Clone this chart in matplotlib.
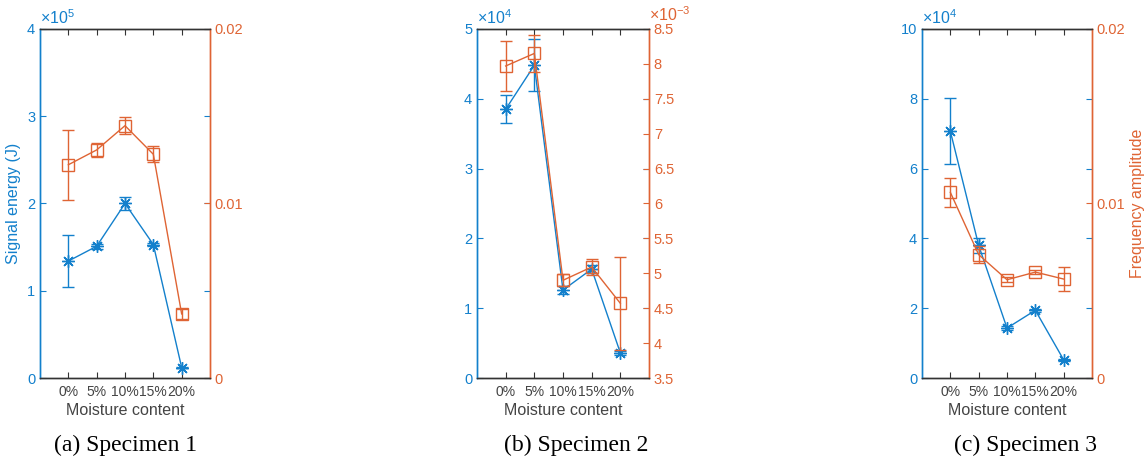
import numpy as np
import matplotlib
matplotlib.use('Agg')
import matplotlib.pyplot as plt
from matplotlib.ticker import FuncFormatter

plt.rcParams['font.family'] = ['Liberation Sans', 'DejaVu Sans']
plt.rcParams['mathtext.fontset'] = 'custom'
plt.rcParams['mathtext.rm'] = 'Liberation Sans'

BLUE = '#1380cc'
ORANGE = '#df6434'
DARK = '#333333'

moisture = ['0%', '5%', '10%', '15%', '20%']

# signal energy (J) - left axis
energy_1 = [1.34e5, 1.51e5, 2.00e5, 1.53e5, 0.12e5]
energy_1_err = [0.30e5, 0.03e5, 0.08e5, 0.02e5, 0.01e5]
energy_2 = [3.85e4, 4.48e4, 1.26e4, 1.56e4, 0.36e4]
energy_2_err = [0.20e4, 0.37e4, 0.06e4, 0.06e4, 0.03e4]
energy_3 = [7.07e4, 3.80e4, 1.43e4, 1.94e4, 0.52e4]
energy_3_err = [0.95e4, 0.22e4, 0.05e4, 0.05e4, 0.02e4]

# frequency amplitude - right axis
freq_1 = [0.01222, 0.01307, 0.01446, 0.01282, 0.00367]
freq_1_err = [0.0020, 0.0004, 0.0005, 0.00045, 0.0003]
freq_2 = [7.97e-3, 8.15e-3, 4.90e-3, 5.09e-3, 4.57e-3]
freq_2_err = [0.36e-3, 0.27e-3, 0.085e-3, 0.12e-3, 0.67e-3]
freq_3 = [0.01064, 0.00707, 0.00563, 0.00607, 0.00567]
freq_3_err = [0.00084, 0.0005, 0.00015, 0.00012, 0.00067]

captions = ['(a) Specimen 1', '(b) Specimen 2', '(c) Specimen 3']

fig = plt.figure(figsize=(11.48, 4.61), dpi=100)


def sci_fmt(exp):
    return FuncFormatter(lambda v, p: f'{v / 10**exp:g}')


def panel(rect, energy, energy_err, freq, freq_err, e_lim, e_step, e_exp,
          f_lim, f_step, f_exp, caption, cap_x, left_label=False, right_label=False):
    ax = fig.add_axes(rect)
    ax2 = ax.twinx()
    x = np.arange(1, len(moisture) + 1)

    ax.errorbar(x, energy, yerr=energy_err, color=BLUE, lw=1, elinewidth=1,
                marker=(8, 2, 0), ms=9, mew=1, capsize=4.5, capthick=1)
    ax2.errorbar(x, freq, yerr=freq_err, color=ORANGE, lw=1, elinewidth=1,
                 marker='s', ms=8, mfc='none', mew=1, capsize=4.5, capthick=1)

    ax.set_xlim(0, 6)
    ax.set_xticks(x)
    ax.set_xticklabels(moisture)
    ax.set_ylim(0, e_lim)
    ax.set_yticks(np.arange(0, e_lim * 1.001, e_step))
    ax.yaxis.set_major_formatter(sci_fmt(e_exp))
    ax2.set_ylim(*f_lim)
    ax2.set_yticks(np.arange(f_lim[0], f_lim[1] + f_step * 0.01, f_step))
    if f_exp:
        ax2.yaxis.set_major_formatter(sci_fmt(f_exp))
    else:
        ax2.yaxis.set_major_formatter(FuncFormatter(lambda v, p: f'{v:g}'))

    for a in (ax, ax2):
        a.spines['left'].set_color(BLUE)
        a.spines['right'].set_color(ORANGE)
        a.spines['top'].set_color(DARK)
        a.spines['bottom'].set_color(DARK)
        for s in a.spines.values():
            s.set_linewidth(1)

    ax.tick_params(axis='x', direction='in', top=True, length=4, color=DARK,
                   labelcolor='#444444', labelsize=10, pad=5)
    ax.tick_params(axis='y', direction='in', left=True, right=True, labelright=False,
                   length=4, colors=BLUE, labelsize=10.5)
    ax2.tick_params(axis='y', direction='in', length=4, colors=ORANGE, labelsize=10.5)

    ax.set_xlabel('Moisture content', color='#444444', fontsize=11.5, labelpad=3)
    ax.text(0, 1.005, r'$\times\mathregular{10^{%d}}$' % e_exp, transform=ax.transAxes,
            color=BLUE, fontsize=11.5, ha='left', va='bottom')
    if f_exp:
        ax2.text(1, 1.015, r'$\times\mathregular{10^{%d}}$' % f_exp, transform=ax.transAxes,
                 color=ORANGE, fontsize=11.5, ha='left', va='bottom')
    if left_label:
        ax.set_ylabel('Signal energy (J)', color=BLUE, fontsize=11.5, labelpad=4)
    if right_label:
        ax2.set_ylabel('Frequency amplitude', color=ORANGE, fontsize=11.5, labelpad=3)

    fig.text(cap_x, 0.022, caption, family='Liberation Serif', fontsize=17,
             ha='center', va='baseline', color='black')


H = 461
W = 1148
bottom = (H - 378) / H
height = 349 / H

panel([40 / W, bottom, 170 / W, height], energy_1, energy_1_err, freq_1, freq_1_err,
      4e5, 1e5, 5, (0, 0.02), 0.01, 0, captions[0], 126 / W, left_label=True)
panel([477 / W, bottom, 172 / W, height], energy_2, energy_2_err, freq_2, freq_2_err,
      5e4, 1e4, 4, (3.5e-3, 8.5e-3), 0.5e-3, -3, captions[1], 576 / W)
panel([922 / W, bottom, 170 / W, height], energy_3, energy_3_err, freq_3, freq_3_err,
      10e4, 2e4, 4, (0, 0.02), 0.01, 0, captions[2], 1025 / W, right_label=True)

fig.savefig('out.png', dpi=100)
